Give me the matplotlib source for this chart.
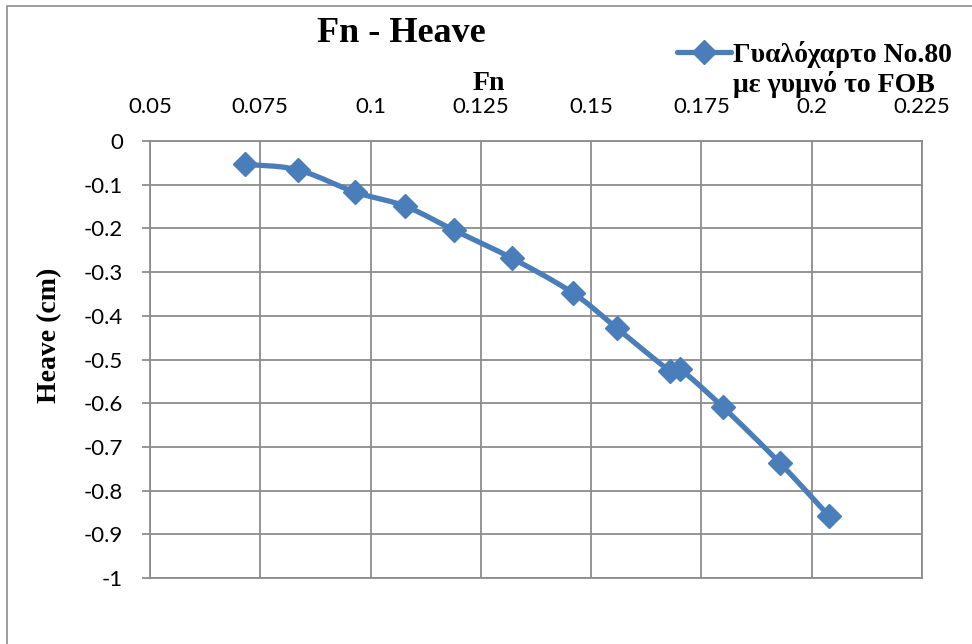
import numpy as np
import matplotlib
matplotlib.use("Agg")
import matplotlib.pyplot as plt
from matplotlib.patches import Rectangle
from matplotlib.lines import Line2D

# Froude number vs. heave measurements
fn = [0.0715, 0.0835, 0.0965, 0.1078, 0.1189, 0.1320, 0.1459,
      0.1558, 0.1679, 0.1701, 0.1799, 0.1928, 0.2039]
heave = [-0.053, -0.066, -0.117, -0.149, -0.204, -0.268, -0.348,
         -0.428, -0.526, -0.522, -0.609, -0.737, -0.858]

x_ticks = [0.05, 0.075, 0.1, 0.125, 0.15, 0.175, 0.2, 0.225]
x_tick_labels = ["0.05", "0.075", "0.1", "0.125", "0.15", "0.175", "0.2", "0.225"]
y_ticks = [0, -0.1, -0.2, -0.3, -0.4, -0.5, -0.6, -0.7, -0.8, -0.9, -1]
y_tick_labels = ["0", "-0.1", "-0.2", "-0.3", "-0.4", "-0.5", "-0.6",
                 "-0.7", "-0.8", "-0.9", "-1"]

series_label = "Γυαλόχαρτο No.80\nμε γυμνό το FOB"
title = "Fn - Heave"
x_label = "Fn"
y_label = "Heave (cm)"

BLUE = "#4A7EBB"
GRID = "#8C8C8C"
SERIF = ["Liberation Serif", "DejaVu Serif"]
SANS = ["Lato", "DejaVu Sans"]
W, H = 972, 644


def fx(px):
    return px / W


def fy(py):
    return 1 - py / H


def smooth_curve(xs, ys, steps=30):
    """Catmull-Rom style smoothing through the measured points."""
    p = np.column_stack([xs, ys])
    p = np.vstack([p[0] * 2 - p[1], p, p[-1] * 2 - p[-2]])
    out = []
    t = np.linspace(0, 1, steps)[:, None]
    for i in range(1, len(p) - 2):
        p0, p1, p2, p3 = p[i - 1], p[i], p[i + 1], p[i + 2]
        c1 = p1 + (p2 - p0) / 6
        c2 = p2 - (p3 - p1) / 6
        seg = ((1 - t) ** 3) * p1 + 3 * ((1 - t) ** 2) * t * c1 \
            + 3 * (1 - t) * t ** 2 * c2 + t ** 3 * p2
        out.append(seg if i == 1 else seg[1:])
    out = np.vstack(out)
    return out[:, 0], out[:, 1]


fig = plt.figure(figsize=(W / 100, H / 100), dpi=100)
fig.patch.set_facecolor("white")

# chart-area border (left and top edges visible)
fig.add_artist(Rectangle((fx(7), -0.1), 1.2, fy(6) + 0.1,
                         transform=fig.transFigure, fill=False,
                         edgecolor=GRID, linewidth=1.2))

ax = fig.add_axes([fx(150), fy(578), (922 - 150) / W, (578 - 141) / H])
ax.set_xlim(0.05, 0.225)
ax.set_ylim(-1, 0)

ax.set_xticks(x_ticks)
ax.set_xticklabels(x_tick_labels, fontfamily=SANS, fontsize=16)
ax.set_yticks(y_ticks)
ax.set_yticklabels(y_tick_labels, fontfamily=SANS, fontsize=16)
ax.xaxis.tick_top()
ax.tick_params(axis="x", length=0, pad=17)
ax.tick_params(axis="y", length=5.8, width=1.3, color=GRID, pad=13.5,
               direction="out")

ax.grid(True, color=GRID, linewidth=1.3)
for side in ["top", "bottom", "right", "left"]:
    ax.spines[side].set_color(GRID)
    ax.spines[side].set_linewidth(1.3)

sx, sy = smooth_curve(fn, heave)
ax.plot(sx, sy, color=BLUE, linewidth=3.8, solid_capstyle="round", zorder=3)
ax.plot(fn, heave, linestyle="none", marker="D", markersize=12,
        color=BLUE, zorder=4)

fig.text(fx(401), fy(34), title, fontfamily=SERIF, fontweight="bold",
         fontsize=26, ha="center", va="center")
fig.text(fx(489), fy(84), x_label, fontfamily=SERIF, fontweight="bold",
         fontsize=20, ha="center", va="center")
fig.text(fx(50), fy(335), y_label, fontfamily=SERIF, fontweight="bold",
         fontsize=20, ha="center", va="center", rotation=90)

# legend entry: line with diamond marker, two-line label
fig.add_artist(Line2D([fx(677), fx(731)], [fy(52), fy(52)],
                      transform=fig.transFigure, color=BLUE, linewidth=3.8,
                      solid_capstyle="round"))
fig.add_artist(Line2D([fx(704)], [fy(52)], transform=fig.transFigure,
                      color=BLUE, marker="D", markersize=12, linestyle="none"))
for i, line in enumerate(series_label.split("\n")):
    fig.text(fx(733), fy(62 + 30 * i), line, fontfamily=SERIF,
             fontweight="bold", fontsize=20, ha="left", va="baseline")

fig.savefig("out.png", dpi=100, facecolor="white")
